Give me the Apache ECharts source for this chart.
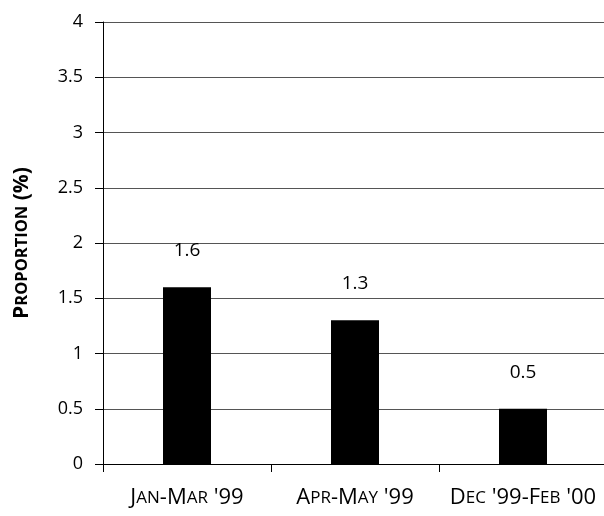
<!DOCTYPE html>
<html><head><meta charset="utf-8">
<script src="https://cdn.jsdelivr.net/npm/echarts@6/dist/echarts.min.js"></script>
<style>html,body{margin:0;padding:0;background:#fff}#c{width:604px;height:516px}</style>
</head><body><div id="c"></div>
<script>
var categories = ["Jan-Mar '99", "Apr-May '99", "Dec '99-Feb '00"];
var values = [1.6, 1.3, 0.5];
var yTicks = [0, 0.5, 1, 1.5, 2, 2.5, 3, 3.5, 4];
var yName = "Proportion (%)";

function smallCaps(s, big, small) {
  var out = '', cur = '', curType = null;
  for (var i = 0; i < s.length; i++) {
    var ch = s[i];
    var t = (ch >= 'a' && ch <= 'z') ? small : big;
    if (t !== curType && cur) { out += '{' + curType + '|' + cur + '}'; cur = ''; }
    curType = t;
    cur += ch.toUpperCase();
  }
  if (cur) out += '{' + curType + '|' + cur + '}';
  return out;
}
var FONT = 'Open Sans';
var chart = echarts.init(document.getElementById('c'));
chart.setOption({
  animation: false,
  grid: {left: 103, right: -3, top: 22, bottom: 52, containLabel: false, outerBoundsMode: 'none'},
  xAxis: {
    type: 'category', data: categories,
    axisLine: {lineStyle: {color: '#000', width: 1}},
    axisTick: {show: true, length: 8, lineStyle: {color: '#000'}},
    axisLabel: {
      margin: 23, color: '#000', interval: 0, fontSize: 22, fontFamily: FONT,
      formatter: function (v) { return smallCaps(v, 'a', 'b'); },
      rich: {
        a: {fontFamily: FONT, fontSize: 22, color: '#000'},
        b: {fontFamily: FONT, fontSize: 17, color: '#000'}
      }
    }
  },
  yAxis: {
    type: 'value', min: 0, max: 4, interval: 0.5,
    name: smallCaps(yName, 'a', 'b'), nameLocation: 'middle', nameGap: 70, nameRotate: 90,
    nameTextStyle: {
      fontSize: 21, fontFamily: FONT, fontWeight: 'bold',
      rich: {
        a: {fontFamily: FONT, fontSize: 21, fontWeight: 'bold', color: '#000'},
        b: {fontFamily: FONT, fontSize: 16.5, fontWeight: 'bold', color: '#000'}
      }
    },
    axisLine: {show: true, lineStyle: {color: '#000', width: 1}},
    axisTick: {show: true, length: 8, lineStyle: {color: '#000'}},
    axisLabel: {margin: 20, color: '#000', fontFamily: FONT, fontSize: 18,
      formatter: function (v) { return yTicks.indexOf(v) >= 0 ? String(v) : ''; }},
    splitLine: {show: true, lineStyle: {color: '#555', width: 1}}
  },
  series: [{
    type: 'bar', data: values, barWidth: 48,
    itemStyle: {color: '#000'},
    label: {show: true, position: 'top', distance: 27, color: '#000', fontFamily: FONT, fontSize: 19}
  }]
});
</script></body></html>
